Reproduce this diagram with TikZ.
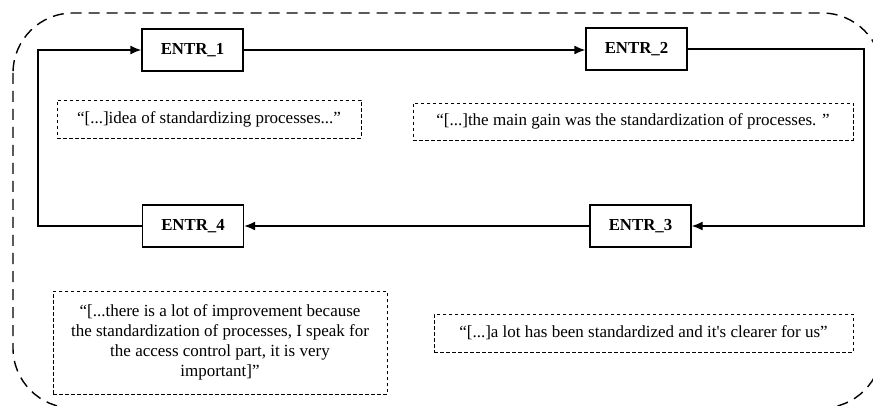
\documentclass[tikz,border=0pt]{standalone}
\usepackage{fontspec}
\setmainfont{Liberation Serif}
\newfontfamily\qfont{Liberation Serif}
\usetikzlibrary{arrows.meta}
\begin{document}
\begin{tikzpicture}[x=1pt,y=-1pt,
  entr/.style={draw,line width=1.4pt,minimum width=101pt,minimum height=42pt,inner sep=0pt,font=\fontsize{16.8}{20}\selectfont\bfseries},
  quote/.style={draw,dashed,dash pattern=on 3.5pt off 2.5pt,line width=0.7pt,inner sep=0pt,align=center,font=\qfont\fontsize{17}{20}\selectfont},
  flow/.style={line width=1.4pt,-{Latex[length=11pt,width=9pt]}},
  outer/.style={line width=1.4pt,dash pattern=on 11pt off 7pt,rounded corners=60pt}]
\useasboundingbox (0,0) rectangle (873,406);
\clip (0,0) rectangle (873,406);
\draw[outer] (13,13) rectangle (882,408);
\node[entr] (e1) at (192.5,50) {ENTR\_1};
\node[entr] (e2) at (636.5,49) {ENTR\_2};
\node[entr] (e3) at (640.5,226) {ENTR\_3};
\node[entr] (e4) at (193,226) {ENTR\_4};
\coordinate (tl) at (38,50);
\coordinate (bl) at (38,226);
\coordinate (tr) at (864,49);
\coordinate (br) at (864,226);
\draw[flow] (e1.east) -- (e2.west |- e1.east);
\draw[flow] (e2.east) -- (tr) -- (br) -- (e3.east);
\draw[flow] (e3.west) -- (e4.east);
\draw[flow] (e4.west) -- (bl) -- (tl) -- (e1.west);
\node[quote,minimum width=304pt,minimum height=38pt] (q1) at (209,119) {“[...]idea of standardizing processes...”};
\node[quote,minimum width=440pt,minimum height=37pt] (q2) at (633,121.5) {“[...]the main gain was the standardization of processes. ”};
\node[quote,minimum width=334pt,minimum height=103pt] (q4) at (220,342.5) {“[...there is a lot of improvement because\\the standardization of processes, I speak for\\the access control part, it is very\\important]”};
\node[quote,minimum width=419pt,minimum height=38pt] (q3) at (643.5,333) {“[...]a lot has been standardized and it's clearer for us”};
\end{tikzpicture}
\end{document}
